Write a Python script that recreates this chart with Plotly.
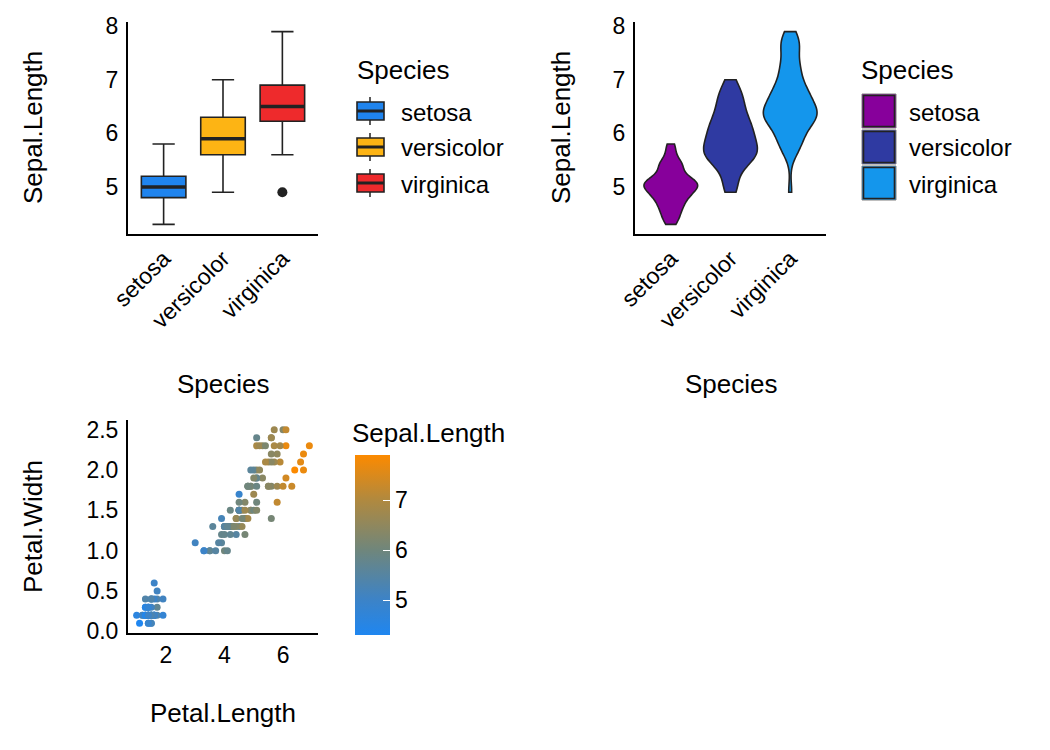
import numpy as np
import plotly.graph_objects as go

# ---------------- data (iris) ----------------
species = ["setosa", "versicolor", "virginica"]

sepal_length_setosa = [5.1,4.9,4.7,4.6,5.0,5.4,4.6,5.0,4.4,4.9,5.4,4.8,4.8,4.3,5.8,5.7,5.4,5.1,5.7,5.1,
                       5.4,5.1,4.6,5.1,4.8,5.0,5.0,5.2,5.2,4.7,4.8,5.4,5.2,5.5,4.9,5.0,5.5,4.9,4.4,5.1,
                       5.0,4.5,4.4,5.0,5.1,4.8,5.1,4.6,5.3,5.0]
sepal_length_versicolor = [7.0,6.4,6.9,5.5,6.5,5.7,6.3,4.9,6.6,5.2,5.0,5.9,6.0,6.1,5.6,6.7,5.6,5.8,6.2,5.6,
                           5.9,6.1,6.3,6.1,6.4,6.6,6.8,6.7,6.0,5.7,5.5,5.5,5.8,6.0,5.4,6.0,6.7,6.3,5.6,5.5,
                           5.5,6.1,5.8,5.0,5.6,5.7,5.7,6.2,5.1,5.7]
sepal_length_virginica = [6.3,5.8,7.1,6.3,6.5,7.6,4.9,7.3,6.7,7.2,6.5,6.4,6.8,5.7,5.8,6.4,6.5,7.7,7.7,6.0,
                          6.9,5.6,7.7,6.3,6.7,7.2,6.2,6.1,6.4,7.2,7.4,7.9,6.4,6.3,6.1,7.7,6.3,6.4,6.0,6.9,
                          6.7,6.9,5.8,6.8,6.7,6.7,6.3,6.5,6.2,5.9]

petal_length_setosa = [1.4,1.4,1.3,1.5,1.4,1.7,1.4,1.5,1.4,1.5,1.5,1.6,1.4,1.1,1.2,1.5,1.3,1.4,1.7,1.5,
                       1.7,1.5,1.0,1.7,1.9,1.6,1.6,1.5,1.4,1.6,1.6,1.5,1.5,1.4,1.5,1.2,1.3,1.4,1.3,1.5,
                       1.3,1.3,1.3,1.6,1.9,1.4,1.6,1.4,1.5,1.4]
petal_length_versicolor = [4.7,4.5,4.9,4.0,4.6,4.5,4.7,3.3,4.6,3.9,3.5,4.2,4.0,4.7,3.6,4.4,4.5,4.1,4.5,3.9,
                           4.8,4.0,4.9,4.7,4.3,4.4,4.8,5.0,4.5,3.5,3.8,3.7,3.9,5.1,4.5,4.5,4.7,4.4,4.1,4.0,
                           4.4,4.6,4.0,3.3,4.2,4.2,4.2,4.3,3.0,4.1]
petal_length_virginica = [6.0,5.1,5.9,5.6,5.8,6.6,4.5,6.3,5.8,6.1,5.1,5.3,5.5,5.0,5.1,5.3,5.5,6.7,6.9,5.0,
                          5.7,4.9,6.7,4.9,5.7,6.0,4.8,4.9,5.6,5.8,6.1,6.4,5.6,5.1,5.6,6.1,5.6,5.5,4.8,5.4,
                          5.6,5.1,5.1,5.9,5.7,5.2,5.0,5.2,5.4,5.1]

petal_width_setosa = [0.2,0.2,0.2,0.2,0.2,0.4,0.3,0.2,0.2,0.1,0.2,0.2,0.1,0.1,0.2,0.4,0.4,0.3,0.3,0.3,
                      0.2,0.4,0.2,0.5,0.2,0.2,0.4,0.2,0.2,0.2,0.2,0.4,0.1,0.2,0.2,0.2,0.2,0.1,0.2,0.2,
                      0.3,0.3,0.2,0.6,0.4,0.3,0.2,0.2,0.2,0.2]
petal_width_versicolor = [1.4,1.5,1.5,1.3,1.5,1.3,1.6,1.0,1.3,1.4,1.0,1.5,1.0,1.4,1.3,1.4,1.5,1.0,1.5,1.1,
                          1.8,1.3,1.5,1.2,1.3,1.4,1.4,1.7,1.5,1.0,1.1,1.0,1.2,1.6,1.5,1.6,1.5,1.3,1.3,1.3,
                          1.2,1.4,1.2,1.0,1.3,1.2,1.3,1.3,1.1,1.3]
petal_width_virginica = [2.5,1.9,2.1,1.8,2.2,2.1,1.7,1.8,1.8,2.5,2.0,1.9,2.1,2.0,2.4,2.3,1.8,2.2,2.3,1.5,
                         2.3,2.0,2.0,1.8,2.1,1.8,1.8,1.8,2.1,1.6,1.9,2.0,2.2,1.5,1.4,2.3,2.4,1.8,1.8,2.1,
                         2.4,2.3,1.9,2.3,2.5,2.3,1.9,2.0,2.3,1.8]

colorbar_ticks = [5, 6, 7]
scatter_x_ticks = [2, 4, 6]
scatter_y_ticks = [0.0, 0.5, 1.0, 1.5, 2.0, 2.5]
sepal_y_ticks = [5, 6, 7, 8]

# ---------------- styles ----------------
box_colors = ["#1F84EE", "#FDB414", "#EE2A2C"]
violin_colors = ["#87009B", "#2F3AA2", "#1496EC"]
cscale = [[0.0, "#1F86F0"], [0.2, "#3D83C6"], [0.47, "#6F867C"], [0.75, "#B0893F"], [1.0, "#FC8A00"]]
FONT = "Liberation Sans, Arial, sans-serif"
DARK = "#222222"
TICK = 23
TITLE = 26
LEG = 24

OFF = 8  # page body margin
W, H = 1050 - OFF, 750 - OFF
def px(x): return (x - OFF) / W
def py(y): return 1 - (y - OFF) / H

sepal = [sepal_length_setosa, sepal_length_versicolor, sepal_length_virginica]
plen = petal_length_setosa + petal_length_versicolor + petal_length_virginica
pwid = petal_width_setosa + petal_width_versicolor + petal_width_virginica
slen = sepal_length_setosa + sepal_length_versicolor + sepal_length_virginica

def bw_nrd0(v):
    v = np.asarray(v)
    sd = np.std(v, ddof=1)
    q75, q25 = np.percentile(v, [75, 25])
    return 0.9 * min(sd, (q75 - q25) / 1.34) * len(v) ** -0.2

fig = go.Figure()

# ---------------- panel 1: boxplot ----------------
for i, (sp, vals) in enumerate(zip(species, sepal)):
    v = np.asarray(vals)
    q1, med, q3 = np.percentile(v, [25, 50, 75])
    iqr = q3 - q1
    inside = v[(v >= q1 - 1.5 * iqr) & (v <= q3 + 1.5 * iqr)]
    lo, hi = inside.min(), inside.max()
    out = v[(v < lo) | (v > hi)]
    xpos = i + 1
    fig.add_trace(go.Box(x=[xpos], q1=[q1], median=[med], q3=[q3], lowerfence=[lo], upperfence=[hi],
                         width=0.75, fillcolor=box_colors[i], line=dict(color=DARK, width=1.6),
                         boxpoints=False, showlegend=False, xaxis="x", yaxis="y", hoverinfo="skip"))
    fig.add_trace(go.Scatter(x=[xpos - 0.375, xpos + 0.375], y=[med, med], mode="lines",
                             line=dict(color=DARK, width=3.5), showlegend=False, xaxis="x", yaxis="y",
                             hoverinfo="skip"))
    if len(out):
        fig.add_trace(go.Scatter(x=[xpos] * len(out), y=out, mode="markers",
                                 marker=dict(color=DARK, size=10), showlegend=False, xaxis="x", yaxis="y"))

# ---------------- panel 2: violin ----------------
for i, (sp, vals) in enumerate(zip(species, sepal)):
    fig.add_trace(go.Violin(x=[i + 1] * len(vals), y=vals, width=0.9, fillcolor=violin_colors[i],
                            line=dict(color=DARK, width=1.6), opacity=1, points=False,
                            spanmode="hard", bandwidth=bw_nrd0(vals), scalegroup="all",
                            scalemode="width", showlegend=False, xaxis="x2", yaxis="y2",
                            hoverinfo="skip"))

# ---------------- panel 3: scatter ----------------
fig.add_trace(go.Scatter(x=plen, y=pwid, mode="markers", xaxis="x3", yaxis="y3", showlegend=False,
                         marker=dict(size=7, color=slen, colorscale=cscale, cmin=min(slen), cmax=max(slen),
                                     line=dict(width=0),
                                     colorbar=dict(x=px(355), xanchor="left", y=py(635), yanchor="bottom",
                                                   len=180 / H, lenmode="fraction", thickness=35,
                                                   thicknessmode="pixels", outlinewidth=0,
                                                   tickvals=colorbar_ticks, ticks="inside", ticklen=7,
                                                   tickcolor="white", tickwidth=1.2,
                                                   tickfont=dict(size=TICK, color="black", family=FONT),
                                                   ticklabelposition="outside", xpad=0, ypad=0))))

axis_common = dict(showgrid=False, zeroline=False, showline=True, linecolor="black", linewidth=2,
                   ticks="", automargin=False, tickfont=dict(size=TICK, color="black", family=FONT))
lo_y = min(min(s) for s in sepal); hi_y = max(max(s) for s in sepal)
pad_y = (hi_y - lo_y) * 0.05
pad_px = (max(plen) - min(plen)) * 0.05
pad_pw = (max(pwid) - min(pwid)) * 0.05

fig.update_layout(
    width=W, height=H, margin=dict(l=0, r=0, t=0, b=0, autoexpand=False),
    paper_bgcolor="white", plot_bgcolor="white", violinmode="overlay", boxmode="overlay",
    font=dict(family=FONT, color="black"),
    xaxis=dict(domain=[px(128), px(318)], range=[0.4, 3.6], tickvals=[1, 2, 3], ticktext=species,
               tickangle=-45, anchor="y", **axis_common),
    yaxis=dict(domain=[py(234), py(22)], range=[lo_y - pad_y, hi_y + pad_y], tickvals=sepal_y_ticks,
               anchor="x", ticklabelstandoff=3, **axis_common),
    xaxis2=dict(domain=[px(635), px(826)], range=[0.4, 3.6], tickvals=[1, 2, 3], ticktext=species,
                tickangle=-45, anchor="y2", **axis_common),
    yaxis2=dict(domain=[py(234), py(22)], range=[lo_y - pad_y, hi_y + pad_y], tickvals=sepal_y_ticks,
                anchor="x2", ticklabelstandoff=3, **axis_common),
    xaxis3=dict(domain=[px(128), px(318)], range=[min(plen) - pad_px, max(plen) + pad_px],
                tickvals=scatter_x_ticks, anchor="y3", **axis_common),
    yaxis3=dict(domain=[py(633), py(420)], range=[min(pwid) - pad_pw, max(pwid) + pad_pw],
                tickvals=scatter_y_ticks, tickformat=".1f", anchor="x3", ticklabelstandoff=3,
                **axis_common),
)

ann = []
def text(x, y, s, size, xanchor="center", angle=0):
    ann.append(dict(x=px(x), y=py(y), xref="paper", yref="paper", text=s, showarrow=False,
                    xanchor=xanchor, yanchor="middle", textangle=angle,
                    font=dict(size=size, color="black", family=FONT)))

# axis titles
text(223, 384, "Species", TITLE)
text(731, 384, "Species", TITLE)
text(33, 128, "Sepal.Length", TITLE, angle=-90)
text(561, 128, "Sepal.Length", TITLE, angle=-90)
text(33, 527, "Petal.Width", TITLE, angle=-90)
text(223, 713, "Petal.Length", TITLE)

# legend titles
text(355, 70, "Species", TITLE, xanchor="left")
text(859, 70, "Species", TITLE, xanchor="left")
text(350, 433, "Sepal.Length", TITLE, xanchor="left")

shapes = []
def rect(x0, y0, x1, y1, fill, line_col, lw):
    shapes.append(dict(type="rect", xref="paper", yref="paper", x0=px(x0), x1=px(x1), y0=py(y1), y1=py(y0),
                       fillcolor=fill, line=dict(color=line_col, width=lw), layer="above"))
def seg(x0, y0, x1, y1, col, lw):
    shapes.append(dict(type="line", xref="paper", yref="paper", x0=px(x0), x1=px(x1), y0=py(y0), y1=py(y1),
                       line=dict(color=col, width=lw), layer="above"))

# box legend
for i, sp in enumerate(species):
    cy = 111 + 36 * i
    seg(370, cy - 14, 370, cy + 14, DARK, 1.5)
    rect(357, cy - 9, 384, cy + 9, box_colors[i], DARK, 1.6)
    seg(357, cy, 384, cy, DARK, 3)
    text(399, cy + 1, sp, LEG, xanchor="left")

# violin legend
for i, sp in enumerate(species):
    cy = 111 + 36 * i
    rect(862, cy - 17, 896, cy + 17, violin_colors[i], "#7f7f7f", 1)
    rect(863.5, cy - 15.5, 894.5, cy + 15.5, violin_colors[i], DARK, 1.6)
    text(907, cy + 1, sp, LEG, xanchor="left")

fig.update_layout(annotations=ann, shapes=shapes)
fig.write_html("out.html")
